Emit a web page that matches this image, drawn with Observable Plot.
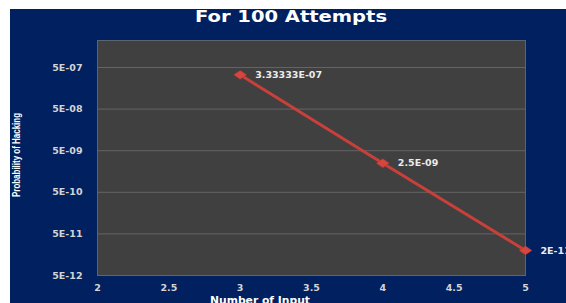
<!DOCTYPE html>
<html>
<head>
<meta charset="utf-8">
<script src="https://cdn.jsdelivr.net/npm/d3@7"></script>
<script src="https://cdn.jsdelivr.net/npm/@observablehq/plot@0.6"></script>
<style>
  html, body { margin: 0; padding: 0; background: #ffffff; overflow: hidden; width: 566px; height: 303px; }
  #chart { position: absolute; left: 10px; top: 9px; width: 556px; height: 294px; }
</style>
</head>
<body>
<div id="chart"></div>
<script>
// ---- data ----
const chartTitle = "For 100 Attempts";
const xTitle = "Number of Input";
const yTitle = "Probability of Hacking";
const inputs = [3, 4, 5];
const probabilities = [3.33333e-7, 2.5e-9, 2e-11];
const pointLabels = ["3.33333E-07", "2.5E-09", "2E-11"];
const xTicks = [2, 2.5, 3, 3.5, 4, 4.5, 5];
const xTickLabels = ["2", "2.5", "3", "3.5", "4", "4.5", "5"];
const yTicks = [5e-7, 5e-8, 5e-9, 5e-10, 5e-11, 5e-12];
const yTickLabels = ["5E-07", "5E-08", "5E-09", "5E-10", "5E-11", "5E-12"];
const yDomain = [5e-12, 2.23e-6];
const xDomain = [2, 5];

const rows = inputs.map((x, i) => ({x, y: probabilities[i], label: pointLabels[i]}));
const yTickRows = yTicks.map((v, i) => ({v, label: yTickLabels[i]}));
const xTickRows = xTicks.map((v, i) => ({v, label: xTickLabels[i]}));

const wideDiamond = {
  draw(context, size) {
    const r = Math.sqrt(size / Math.PI);
    const w = r * 1.6, h = r * 1.1;
    context.moveTo(0, -h);
    context.lineTo(w, 0);
    context.lineTo(0, h);
    context.lineTo(-w, 0);
    context.closePath();
  }
};

const tickStyle = "letter-spacing:0.6px";

const plot = Plot.plot({
  width: 556,
  height: 294,
  marginLeft: 87,
  marginRight: 41,
  marginTop: 31,
  marginBottom: 28,
  style: {
    background: "#002060",
    color: "#d4d4d4",
    fontFamily: "DejaVu Sans",
    fontSize: "9.5px",
    fontWeight: "bold"
  },
  x: {domain: xDomain, axis: null},
  y: {type: "log", domain: yDomain, axis: null},
  marks: [
    Plot.frame({fill: "#404040", stroke: "#5c6270"}),
    Plot.ruleY(yTicks, {stroke: "#646464", strokeWidth: 1}),
    Plot.text(xTickRows, {x: "v", text: "label", frameAnchor: "bottom", dy: 15, fill: "#d4d4d4", fontSize: 9.5, fontWeight: "bold", style: tickStyle}),
    Plot.text(yTickRows, {y: "v", text: "label", frameAnchor: "left", dx: -15, textAnchor: "end", fill: "#d4d4d4", fontSize: 9.5, fontWeight: "bold", style: tickStyle}),
    Plot.line(rows, {x: "x", y: "y", stroke: "#c9403a", strokeWidth: 3}),
    Plot.dot(rows, {x: "x", y: "y", r: 4, symbol: wideDiamond, fill: "#d4463f", stroke: "#b8352f", strokeWidth: 0.5}),
    Plot.text(rows, {x: "x", y: "y", text: "label", dx: 15, textAnchor: "start", fill: "#ececec", fontSize: 9.5, fontWeight: "bold", style: "letter-spacing:0.8px"})
  ]
});

document.getElementById("chart").appendChild(plot);

const svg = d3.select(plot);
svg.append("text")
  .attr("x", 281).attr("y", 12.5)
  .attr("text-anchor", "middle")
  .attr("fill", "#ffffff")
  .attr("font-family", "DejaVu Sans")
  .attr("font-weight", "bold")
  .attr("font-size", 15)
  .attr("textLength", 192)
  .attr("lengthAdjust", "spacingAndGlyphs")
  .text(chartTitle);

svg.append("text")
  .attr("transform", "translate(9.5,146) rotate(-90)")
  .attr("text-anchor", "middle")
  .attr("fill", "#ffffff")
  .attr("font-family", "Liberation Sans Narrow, Liberation Sans, sans-serif")
  .attr("font-weight", "bold")
  .attr("font-size", 10.5)
  .attr("textLength", 84)
  .attr("lengthAdjust", "spacingAndGlyphs")
  .text(yTitle);

svg.append("text")
  .attr("x", 250).attr("y", 295)
  .attr("text-anchor", "middle")
  .attr("fill", "#ffffff")
  .attr("font-family", "DejaVu Sans")
  .attr("font-weight", "bold")
  .attr("font-size", 10)
  .attr("textLength", 100)
  .attr("lengthAdjust", "spacingAndGlyphs")
  .text(xTitle);
</script>
</body>
</html>
